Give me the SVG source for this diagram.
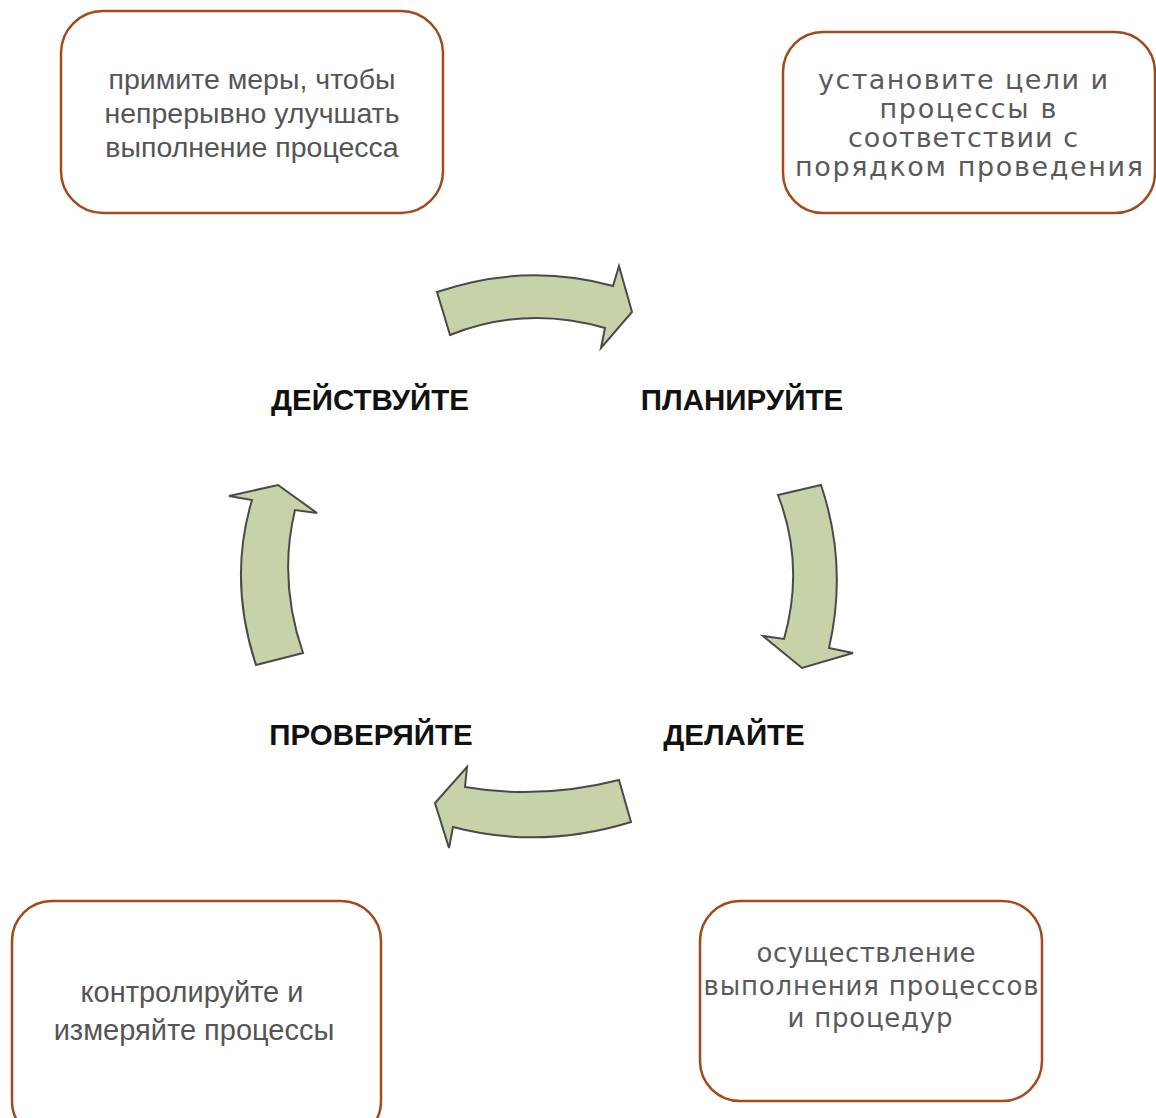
<svg xmlns="http://www.w3.org/2000/svg" width="1156" height="1118" viewBox="0 0 1156 1118">
<style>
.box{fill:#fff;stroke:#a24a1e;stroke-width:2.5}
.arrow{fill:#c8d2a8;stroke:#4a4a4a;stroke-width:2;stroke-linejoin:miter}
.t1{font-family:"Liberation Sans",Arial,sans-serif;font-size:28.5px;fill:#555;text-anchor:middle}
.t2{font-family:"DejaVu Sans",Verdana,sans-serif;font-size:27px;fill:#5a5a5a;text-anchor:middle}
.t3{font-family:"DejaVu Sans",Verdana,sans-serif;font-size:26px;fill:#5a5a5a;text-anchor:middle}
.lbl{font-family:"Liberation Sans",Arial,sans-serif;font-size:29.5px;font-weight:bold;fill:#111;text-anchor:middle}
</style>
<rect width="1156" height="1118" fill="#fff"/>
<g id="node-act-box">
<rect class="box" x="61" y="11" width="382" height="202" rx="42"/>
<text class="t1" x="252" y="89">примите меры, чтобы</text>
<text class="t1" x="252" y="123">непрерывно улучшать</text>
<text class="t1" x="252" y="157">выполнение процесса</text>
</g>
<g id="node-plan-box">
<rect class="box" x="783" y="32" width="372" height="181" rx="40"/>
<text class="t2" x="963" y="89" textLength="290" lengthAdjust="spacing">установите цели и</text>
<text class="t2" x="968" y="118" textLength="177" lengthAdjust="spacing">процессы в</text>
<text class="t2" x="963" y="147" textLength="230" lengthAdjust="spacing">соответствии с</text>
<text class="t2" x="969" y="176" textLength="348" lengthAdjust="spacing">порядком проведения</text>
</g>
<g id="node-check-box">
<rect class="box" x="12" y="901" width="369" height="240" rx="40"/>
<text class="t1" x="192" y="1002" style="font-size:29px">контролируйте и</text>
<text class="t1" x="194" y="1040" style="font-size:29px">измеряйте процессы</text>
</g>
<g id="node-do-box">
<rect class="box" x="700" y="901" width="342" height="200" rx="40"/>
<text class="t3" x="866" y="962" textLength="219" lengthAdjust="spacing">осуществление</text>
<text class="t3" x="871" y="995" textLength="335" lengthAdjust="spacing">выполнения процессов</text>
<text class="t3" x="870" y="1027" textLength="165" lengthAdjust="spacing">и процедур</text>
</g>
<g id="node-act"><text class="lbl" x="370" y="410">ДЕЙСТВУЙТЕ</text></g>
<g id="node-plan"><text class="lbl" x="742" y="410">ПЛАНИРУЙТЕ</text></g>
<g id="node-check"><text class="lbl" x="371" y="745">ПРОВЕРЯЙТЕ</text></g>
<g id="node-do"><text class="lbl" x="734" y="745">ДЕЛАЙТЕ</text></g>
<g id="connectors">
<path class="arrow" d="M437,292 Q525,262 613,286 L619,266 L632,312 L601,348 L605,328 Q525,305 450,335 Z"/>
<path class="arrow" d="M778,495 L821,485 Q848,565 829,648 L853,653 L802,668 L763,636 L784,639 Q805,565 778,495 Z"/>
<path class="arrow" d="M631,822 Q540,850 453,827 L449,848 L435,803 L467,767 L465,787 Q540,800 619,780 Z"/>
<path class="arrow" d="M256,665 L303,653 Q278,580 295,510 L317,513 L278,485 L229,496 L252,500 Q228,580 256,665 Z"/>
</g>
</svg>
